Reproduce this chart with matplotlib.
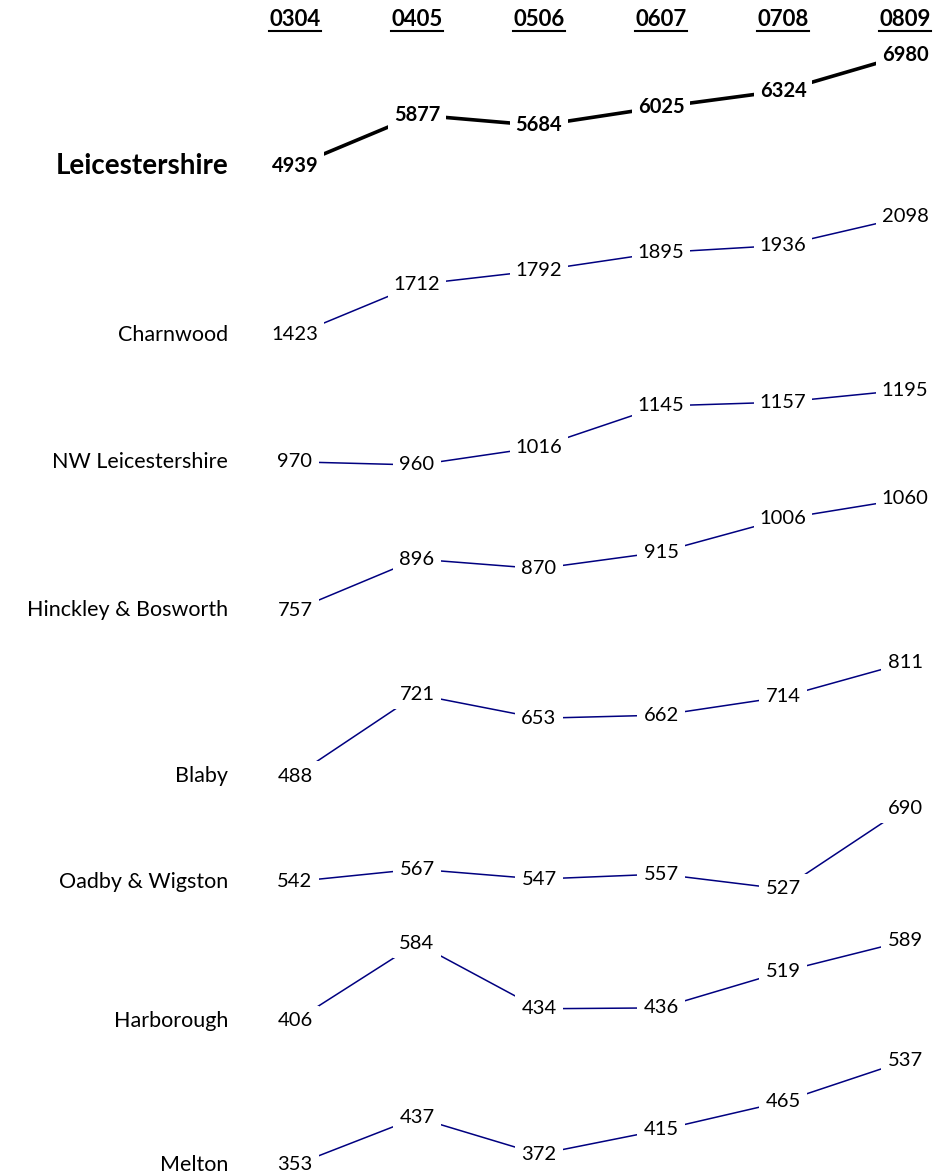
import matplotlib
matplotlib.use("Agg")
import matplotlib.pyplot as plt
from matplotlib.lines import Line2D
from matplotlib.transforms import blended_transform_factory

plt.rcParams['font.family'] = ['Lato', 'DejaVu Sans']

years = ["0304", "0405", "0506", "0607", "0708", "0809"]
areas = ["Leicestershire", "Charnwood", "NW Leicestershire", "Hinckley & Bosworth",
         "Blaby", "Oadby & Wigston", "Harborough", "Melton"]

leicestershire = [4939, 5877, 5684, 6025, 6324, 6980]
charnwood = [1423, 1712, 1792, 1895, 1936, 2098]
nw_leicestershire = [970, 960, 1016, 1145, 1157, 1195]
hinckley_bosworth = [757, 896, 870, 915, 1006, 1060]
blaby = [488, 721, 653, 662, 714, 811]
oadby_wigston = [542, 567, 547, 557, 527, 690]
harborough = [406, 584, 434, 436, 519, 589]
melton = [353, 437, 372, 415, 465, 537]

series = [leicestershire, charnwood, nw_leicestershire, hinckley_bosworth,
          blaby, oadby_wigston, harborough, melton]

# ---------- LAYOUT (pixels from top: where each row's min / max sit) ----------
W, H = 951, 1174
row_bands = [(166, 55), (335, 217), (465, 390), (610, 499),
             (776, 663), (889, 808), (1021, 941), (1165, 1061)]
x_first, x_last = 295, 905

fig = plt.figure(figsize=(W / 100, H / 100), dpi=100)

axes = []
for i, (name, vals) in enumerate(zip(areas, series)):
    y_lo, y_hi = row_bands[i]
    ax = fig.add_axes([x_first / W, 1 - y_lo / H, (x_last - x_first) / W, (y_lo - y_hi) / H])
    ax.set_xlim(0, len(years) - 1)
    ax.set_ylim(min(vals), max(vals))
    ax.axis("off")
    axes.append(ax)

    total = (i == 0)
    color = "black" if total else "#000080"
    lw = 2.6 if total else 1.1
    weight = "bold" if total else "normal"

    xs = list(range(len(vals)))
    ax.plot(xs, vals, color=color, lw=lw, solid_capstyle="butt", clip_on=False, zorder=1)

    # value labels sit on the points, white box cuts the line
    for x, v in zip(xs, vals):
        ax.text(x, v, str(v), ha="center", va="center", fontsize=14.5,
                fontweight=weight, color="black", zorder=3,
                bbox=dict(boxstyle="square,pad=0.3", fc="white", ec="none"))

    ax.annotate(name, xy=(0, vals[0]), xytext=(-48, 0), textcoords="offset points",
                ha="right", va="center", fontsize=20 if total else 15.5,
                fontweight=weight, color="black")

# ---------- HEADERS ----------
top = axes[0]
trans = blended_transform_factory(top.transData, fig.transFigure)
headers = []
for j, yr in enumerate(years):
    t = top.text(j, 1 - 20 / H, yr, ha="center", va="center", fontsize=16,
                 fontweight="bold", transform=trans)
    headers.append(t)

# underline headers
fig.canvas.draw()
renderer = fig.canvas.get_renderer()
for t in headers:
    bb = t.get_window_extent(renderer)
    y = (H - 31) / H
    fig.add_artist(Line2D([bb.x0 / W, bb.x1 / W], [y, y], color="black", lw=1.5,
                          transform=fig.transFigure))

fig.savefig("out.png", dpi=100, facecolor="white")
